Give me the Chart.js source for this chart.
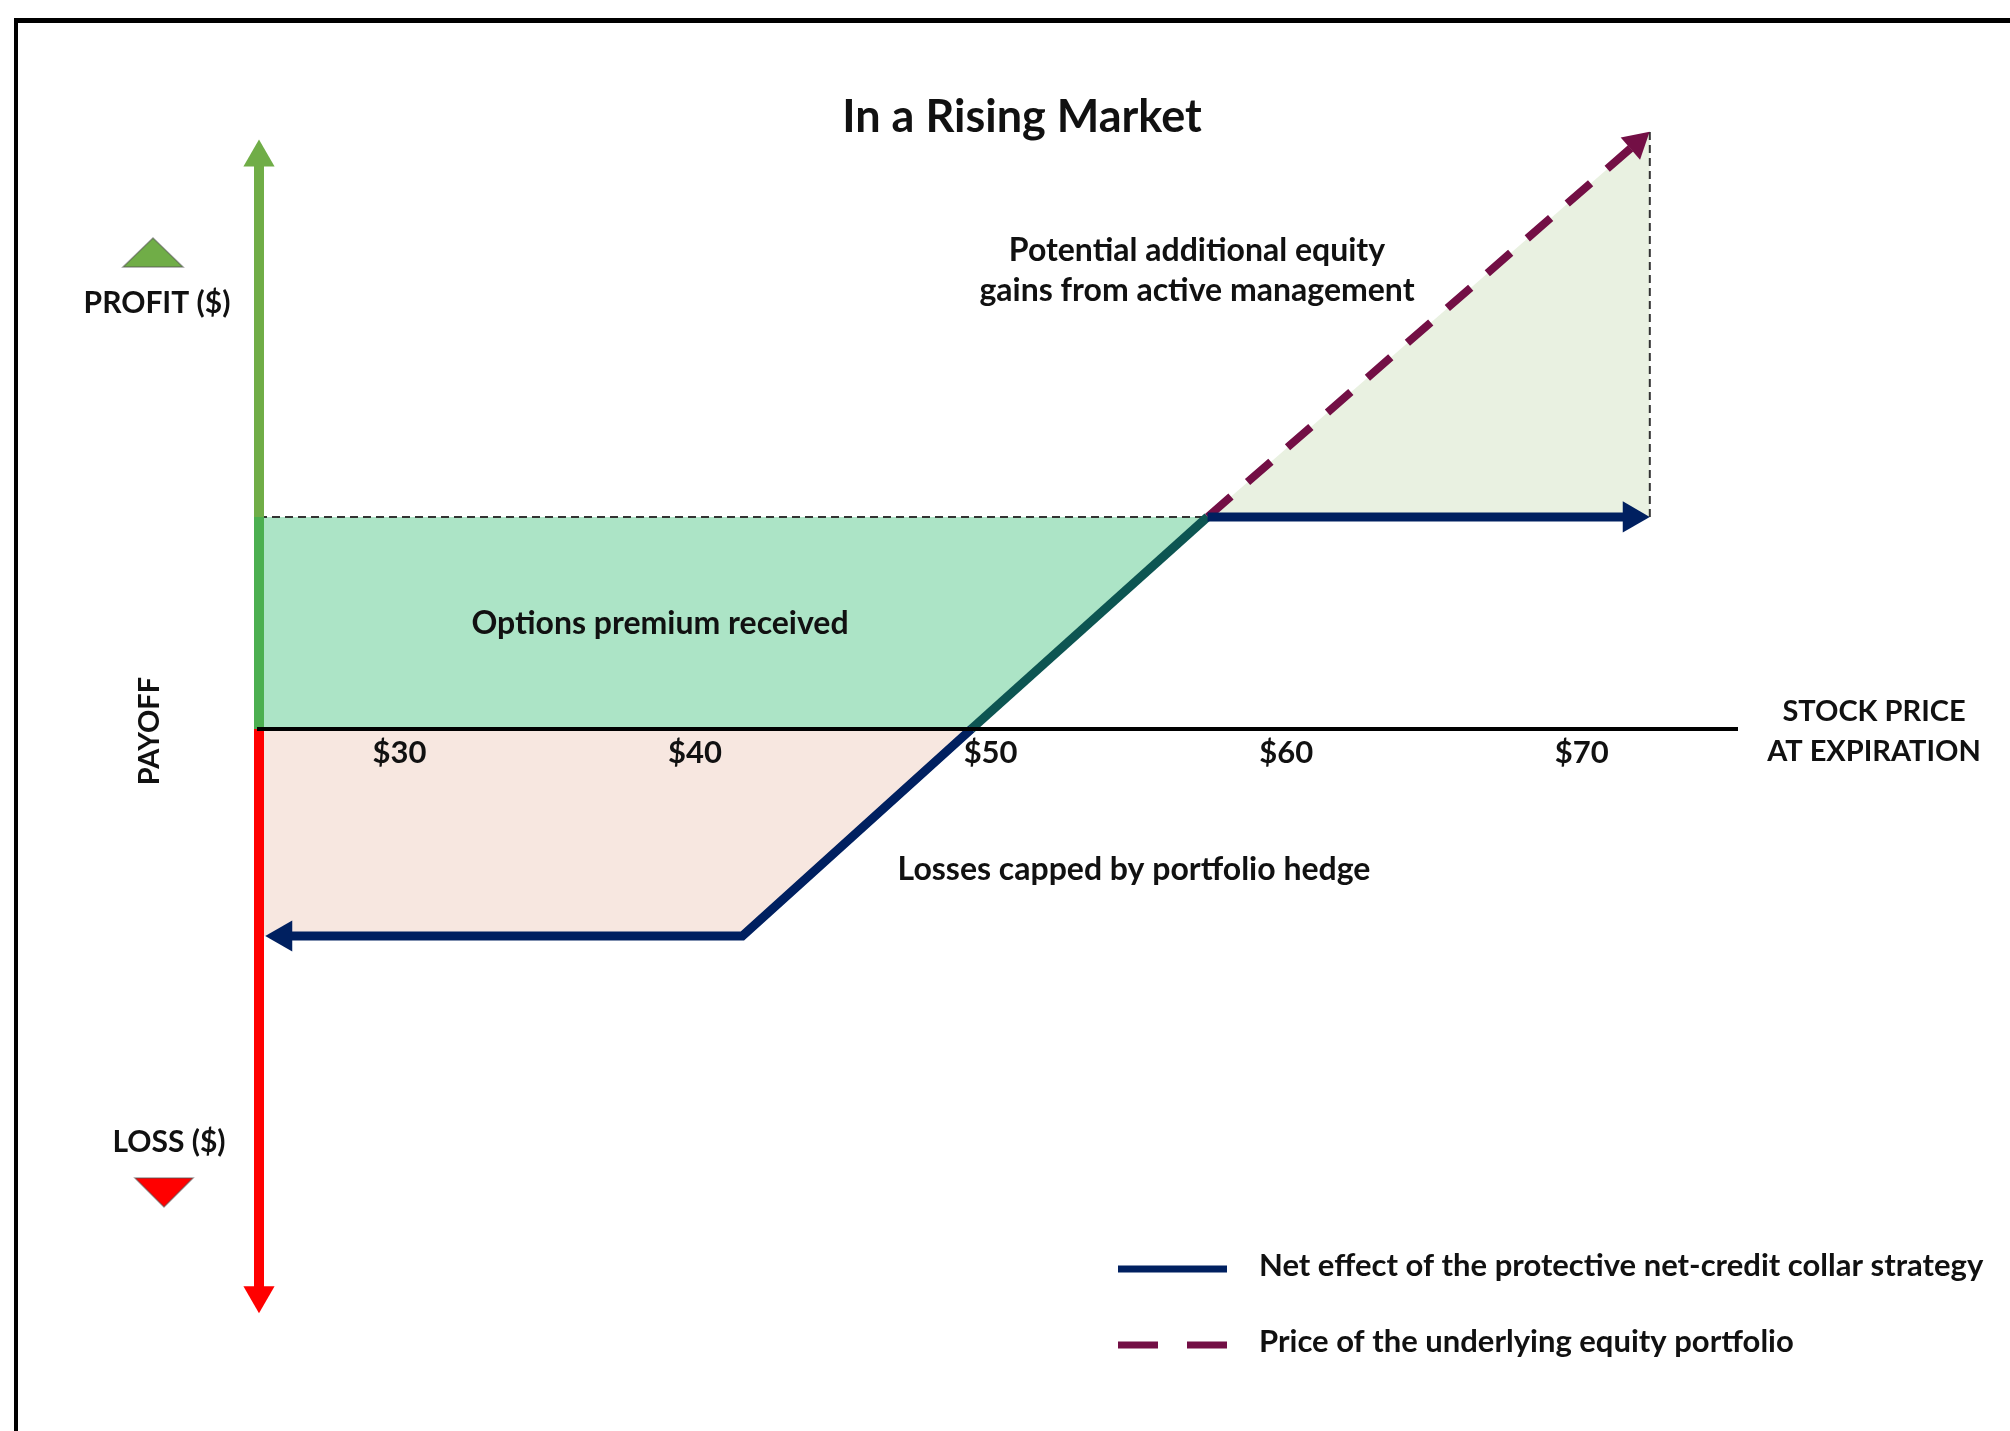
<!DOCTYPE html>
<html>
<head>
<meta charset="utf-8">
<title>In a Rising Market</title>
<script src="https://cdn.jsdelivr.net/npm/chart.js@4.4.0/dist/chart.umd.min.js"></script>
<style>
  html, body { margin: 0; padding: 0; background: #fff; overflow: hidden; }
  #wrap { position: relative; width: 2010px; height: 1431px; }
  #frame { position: absolute; left: 14px; top: 18px; right: -10px; bottom: -10px;
           border-left: 4px solid #000; border-top: 5px solid #000; }
  #chart { position: absolute; left: 0; top: 0; }
</style>
</head>
<body>
<div id="wrap">
  <div id="frame"></div>
  <canvas id="chart" width="2010" height="1431"></canvas>
</div>
<script>
// x = stock price at expiration ($), y = payoff ($)
var tickPrices = [30, 40, 50, 60, 70];
var priceRange = [25.25, 75.25];
var payoffRange = [-22.5, 22.5];

// net effect of the collar (ends sit under the arrow heads)
var netPrices = [26.07, 41.6, 49.35, 57.34, 71.69];
var netPayoff = [-7.75, -7.75, 0, 7.94, 7.94];

// underlying equity portfolio above the call strike
var equityPrices = [57.34, 71.86];
var equityPayoff = [7.94, 21.94];

// shaded areas
var premiumTopPrices = [25.25, 57.34];
var premiumTopPayoff = [7.94, 7.94];
var premiumBasePrices = [25.25, 49.35, 57.34];
var premiumBasePayoff = [0, 0, 7.94];
var lossPrices = [25.25, 41.6, 49.35];
var lossPayoff = [-7.75, -7.75, 0];
var gainPrices = [57.34, 72.3];
var gainPayoff = [7.94, 22.35];
var capPrices = [72.3, 72.3];
var capPayoff = [7.94, 22.35];

// payoff axis arrows
var axisPrice = 25.25;
var profitAxisPayoff = [0, 7.94, 21.4];
var lossAxisPayoff = [0, -21.2];

var NAVY = '#002060';
var TEAL = '#0D5552';
var MAROON = '#730F45';
var INK = '#111';
var FONT = 'Lato, "Open Sans", sans-serif';

function pts(xs, ys) {
  return xs.map(function (x, i) { return { x: x, y: ys[i] }; });
}

var annotations = {
  id: 'annotations',
  afterDraw: function (chart) {
    var ctx = chart.ctx;
    ctx.save();
    ctx.fillStyle = INK;
    ctx.textAlign = 'center';
    ctx.textBaseline = 'middle';

    ctx.font = 'bold 45px ' + FONT;
    ctx.fillText('In a Rising Market', 1022, 117);

    ctx.font = 'bold 32px ' + FONT;
    ctx.fillText('Potential additional equity', 1197, 251);
    ctx.fillText('gains from active management', 1197, 291);
    ctx.fillText('Options premium received', 660, 624);
    ctx.fillText('Losses capped by portfolio hedge', 1134, 870);

    ctx.font = 'bold 29px ' + FONT;
    ctx.fillText('STOCK PRICE', 1874, 712);
    ctx.fillText('AT EXPIRATION', 1874, 752);
    ctx.font = 'bold 30px ' + FONT;
    ctx.fillText('PROFIT ($)', 157, 303);
    ctx.fillText('LOSS ($)', 169, 1142);

    ctx.save();
    ctx.font = 'bold 29px ' + FONT;
    ctx.translate(150, 731);
    ctx.rotate(-Math.PI / 2);
    ctx.fillText('PAYOFF', 0, 0);
    ctx.restore();

    // profit / loss markers
    ctx.lineWidth = 1.5;
    ctx.strokeStyle = 'rgba(80,80,80,0.55)';
    ctx.fillStyle = '#70AD47';
    ctx.beginPath();
    ctx.moveTo(123, 267); ctx.lineTo(183, 267); ctx.lineTo(153, 238);
    ctx.closePath(); ctx.fill(); ctx.stroke();
    ctx.fillStyle = '#FF0000';
    ctx.beginPath();
    ctx.moveTo(135, 1178); ctx.lineTo(193, 1178); ctx.lineTo(164, 1207);
    ctx.closePath(); ctx.fill(); ctx.stroke();

    // legend
    ctx.font = 'bold 31px ' + FONT;
    ctx.textAlign = 'left';
    chart.data.datasets.forEach(function (ds) {
      if (ds.legendY === undefined) return;
      ctx.strokeStyle = ds.borderColor;
      ctx.lineWidth = 7;
      ctx.setLineDash(ds.borderDash ? [40, 29] : []);
      ctx.beginPath();
      ctx.moveTo(1118, ds.legendY + 3);
      ctx.lineTo(1227, ds.legendY + 3);
      ctx.stroke();
      ctx.setLineDash([]);
      ctx.fillStyle = INK;
      ctx.fillText(ds.label, 1259, ds.legendY);
    });
    ctx.restore();
  }
};

new Chart(document.getElementById('chart'), {
  type: 'line',
  data: {
    datasets: [
      {
        label: 'Net effect of the protective net-credit collar strategy',
        legendY: 1266,
        data: pts(netPrices, netPayoff),
        order: 1,
        borderColor: NAVY,
        borderWidth: 9,
        borderJoinStyle: 'miter',
        segment: { borderColor: function (c) { return c.p0DataIndex === 2 ? TEAL : NAVY; } },
        pointStyle: 'triangle',
        pointRadius: [18, 0, 0, 0, 18],
        pointRotation: [270, 0, 0, 0, 90],
        pointBackgroundColor: NAVY,
        pointBorderWidth: 0,
        clip: false
      },
      {
        label: 'Price of the underlying equity portfolio',
        legendY: 1342,
        data: pts(equityPrices, equityPayoff),
        order: 2,
        borderColor: MAROON,
        borderWidth: 8,
        borderDash: [31, 22],
        pointStyle: 'triangle',
        pointRadius: [0, 17],
        pointRotation: [0, 49],
        pointBackgroundColor: MAROON,
        pointBorderWidth: 0,
        clip: false
      },
      {
        label: 'profit axis',
        data: pts(profitAxisPayoff.map(function () { return axisPrice; }), profitAxisPayoff),
        order: 0,
        borderColor: '#70AD47',
        borderWidth: 10,
        segment: { borderColor: function (c) { return c.p0DataIndex === 0 ? '#4CAF50' : '#70AD47'; } },
        pointStyle: 'triangle',
        pointRadius: [0, 0, 18],
        pointBackgroundColor: '#70AD47',
        pointBorderWidth: 0,
        clip: false
      },
      {
        label: 'loss axis',
        data: pts(lossAxisPayoff.map(function () { return axisPrice; }), lossAxisPayoff),
        order: 0,
        borderColor: '#FF0000',
        borderWidth: 10,
        pointStyle: 'triangle',
        pointRadius: [0, 18],
        pointRotation: 180,
        pointBackgroundColor: '#FF0000',
        pointBorderWidth: 0,
        clip: false
      },
      {
        label: 'options premium',
        data: pts(premiumTopPrices, premiumTopPayoff),
        order: 3,
        borderColor: '#333',
        borderWidth: 2,
        borderDash: [8, 5],
        pointRadius: 0,
        fill: 5,
        backgroundColor: '#ACE4C6'
      },
      {
        label: 'premium base',
        data: pts(premiumBasePrices, premiumBasePayoff),
        order: 5,
        borderWidth: 0,
        borderColor: 'rgba(0,0,0,0)',
        pointRadius: 0
      },
      {
        label: 'losses capped',
        data: pts(lossPrices, lossPayoff),
        order: 6,
        borderWidth: 0,
        borderColor: 'rgba(0,0,0,0)',
        pointRadius: 0,
        fill: 'origin',
        backgroundColor: '#F7E7E0'
      },
      {
        label: 'additional gains',
        data: pts(gainPrices, gainPayoff),
        order: 6,
        borderWidth: 0,
        borderColor: 'rgba(0,0,0,0)',
        pointRadius: 0,
        fill: { value: 7.94 },
        backgroundColor: '#E9F1E1'
      },
      {
        label: 'cap',
        data: pts(capPrices, capPayoff),
        order: 3,
        borderColor: '#333',
        borderWidth: 2,
        borderDash: [8, 5],
        pointRadius: 0
      }
    ]
  },
  options: {
    responsive: false,
    animation: false,
    events: [],
    layout: { padding: { left: 259, right: 273, top: 128, bottom: 101 } },
    plugins: {
      legend: { display: false },
      tooltip: { enabled: false },
      title: { display: false }
    },
    scales: {
      x: {
        type: 'linear',
        min: priceRange[0],
        max: priceRange[1],
        position: { y: 0 },
        grid: { display: false },
        border: { display: true, color: '#000', width: 4, z: 1 },
        afterBuildTicks: function (axis) {
          axis.ticks = tickPrices.map(function (v) { return { value: v }; });
        },
        ticks: {
          z: 1,
          padding: -3,
          autoSkip: false,
          maxRotation: 0,
          color: INK,
          font: { family: FONT, weight: 'bold', size: 31 },
          callback: function (v) { return '$' + v; }
        }
      },
      y: {
        type: 'linear',
        min: payoffRange[0],
        max: payoffRange[1],
        display: false
      }
    }
  },
  plugins: [annotations]
});
</script>
</body>
</html>
